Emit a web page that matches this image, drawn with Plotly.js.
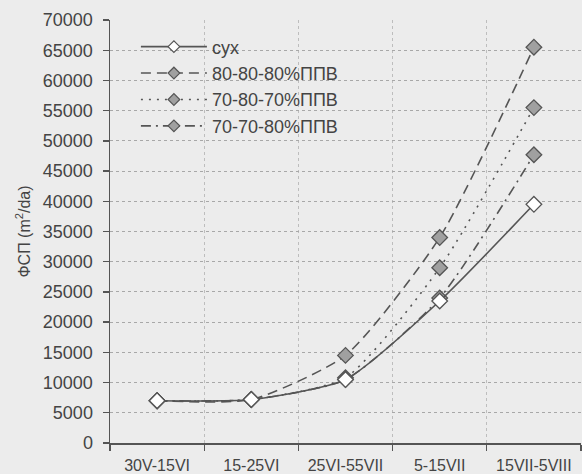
<!DOCTYPE html>
<html>
<head>
<meta charset="utf-8">
<script src="https://cdn.plot.ly/plotly-3.0.1.min.js"></script>
<style>
html,body{margin:0;padding:0;background:#ececec;}
#chart{width:582px;height:474px;}
</style>
</head>
<body>
<div id="chart"></div>
<script>
var categories = ["30V-15VI", "15-25VI", "25VI-55VII", "5-15VII", "15VII-5VIII"];
var seriesNames = ["сух", "80-80-80%ППВ", "70-80-70%ППВ", "70-70-80%ППВ"];
var suh      = [7000, 7200, 10500, 23500, 39500];
var v808080  = [7000, 7200, 14500, 34000, 65500];
var v708070  = [7000, 7200, 10800, 29000, 55500];
var v707080  = [7000, 7200, 10500, 24000, 47700];
var yTicks = [0,5000,10000,15000,20000,25000,30000,35000,40000,45000,50000,55000,60000,65000,70000];

var lineColor = "#555555";
var dashes = ["solid", "10px,6px", "2px,6px", "10px,5px,2px,5px"];
var fills = ["#ffffff", "#a0a0a0", "#a0a0a0", "#a0a0a0"];
var values = [suh, v808080, v708070, v707080];

var dataTraces = values.map(function(v, i){
  return {
    x: categories, y: v, name: seriesNames[i], type: "scatter", mode: "lines+markers",
    showlegend: false,
    line: {color: lineColor, width: 1.6, dash: dashes[i], shape: "spline", smoothing: 0.6},
    marker: {symbol: "diamond", size: 12, color: fills[i], line: {color: "#555555", width: 1.3}}
  };
});
// legend-only entries (no data points), smaller symbols as in the reference legend
var legendTraces = values.map(function(v, i){
  return {
    x: [null], y: [null], name: seriesNames[i], type: "scatter", mode: "lines+markers",
    legendgroup: "g"+i, legendrank: i + 1,
    line: {color: lineColor, width: 1.6, dash: dashes[i]},
    marker: {symbol: "diamond", size: 9, color: fills[i], line: {color: "#555555", width: 1.2}}
  };
});
var traces = [dataTraces[1], dataTraces[2], dataTraces[3], dataTraces[0]].concat(legendTraces);

var layout = {
  width: 582, height: 474,
  margin: {l: 110, r: 1, t: 20, b: 31},
  paper_bgcolor: "#ececec", plot_bgcolor: "#ececec",
  font: {family: "Liberation Sans, Arial, sans-serif", size: 14, color: "#444444"},
  showlegend: true,
  legend: {x: 0.055, y: 0.98, xanchor: "left", yanchor: "top", bgcolor: "rgba(0,0,0,0)",
           font: {size: 18, color: "#444444"}, tracegroupgap: 7, traceorder: "normal", itemwidth: 66},
  xaxis: {
    type: "category", range: [-0.5, 4.5], tickson: "boundaries",
    ticks: "outside", ticklen: 6, tickcolor: "#555", tickwidth: 1.3,
    showline: true, linecolor: "#555", linewidth: 1.5,
    showgrid: true, gridcolor: "#bdbdbd", griddash: "dot", gridwidth: 1,
    ticklabelstandoff: 7,
    tickfont: {size: 16, color: "#444"}, fixedrange: true
  },
  yaxis: {
    range: [0, 70000], tickvals: yTicks, ticktext: yTicks.map(String),
    ticks: "outside", ticklen: 6, tickcolor: "#555", tickwidth: 1.3,
    showline: true, linecolor: "#555", linewidth: 1.5,
    showgrid: true, gridcolor: "#a8a8a8", griddash: "dot", gridwidth: 1,
    zeroline: false, ticklabelstandoff: 6,
    tickfont: {size: 18, color: "#444"},
    title: {text: "ФСП (m<sup>2</sup>/da)", font: {size: 16, color: "#444"}, standoff: 8}
  }
};
Plotly.newPlot("chart", traces, layout, {staticPlot: true, displayModeBar: false});
</script>
</body>
</html>
